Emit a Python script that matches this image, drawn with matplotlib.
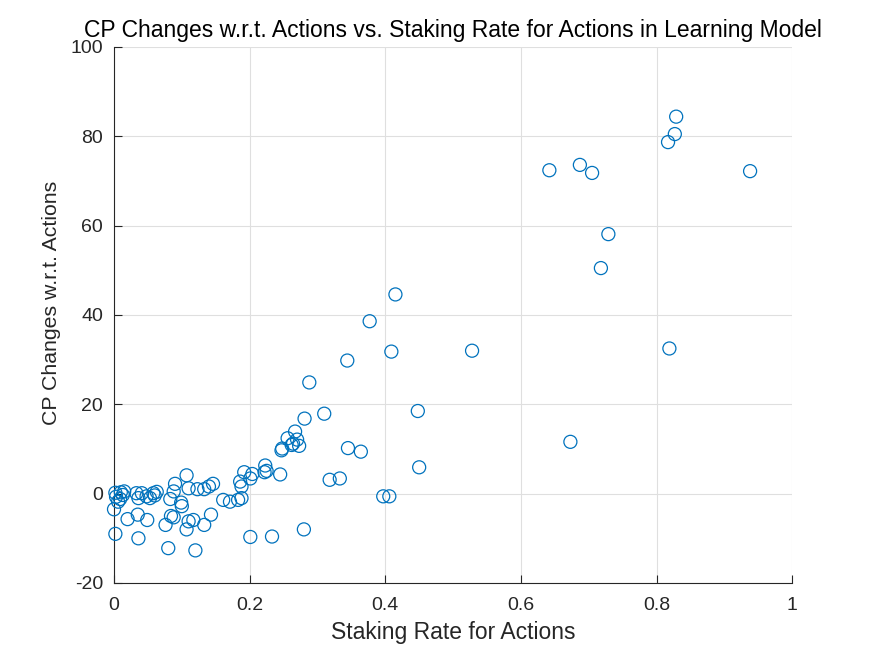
import numpy as np
import matplotlib
matplotlib.use('Agg')
import matplotlib.pyplot as plt

# staking rate (x) and CP change (y)
staking_rate = [
    0.829, 0.827, 0.817, 0.642, 0.687, 0.705, 0.938, 0.729, 0.718, 0.819,
    0.673, 0.415, 0.377, 0.409, 0.528, 0.344, 0.288, 0.310, 0.448, 0.281,
    0.267, 0.256, 0.270, 0.264, 0.273, 0.262, 0.248, 0.247, 0.345, 0.364,
    0.450, 0.223, 0.225, 0.222, 0.245, 0.204, 0.192, 0.201, 0.186, 0.188,
    0.318, 0.333, 0.397, 0.406, 0.188, 0.183, 0.171, 0.161, 0.201, 0.233,
    0.280, 0.140, 0.146, 0.133, 0.123, 0.110, 0.107, 0.090, 0.088, 0.083,
    0.099, 0.100, 0.084, 0.088, 0.076, 0.107, 0.110, 0.117, 0.133, 0.143,
    0.080, 0.120, 0.002, 0.036, 0.020, 0.035, 0.049, 0.000, 0.003, 0.006,
    0.009, 0.013, 0.010, 0.015, 0.002, 0.033, 0.036, 0.041, 0.048, 0.053,
    0.058, 0.063, 0.060,
]
cp_change = [
    84.4, 80.5, 78.7, 72.4, 73.6, 71.8, 72.2, 58.1, 50.5, 32.5,
    11.6, 44.6, 38.6, 31.8, 32.0, 29.8, 24.9, 17.9, 18.5, 16.8,
    13.9, 12.4, 12.1, 11.2, 10.7, 10.9, 10.1, 9.7, 10.2, 9.4,
    5.9, 6.3, 5.1, 4.8, 4.3, 4.4, 4.8, 3.4, 2.7, 1.6,
    3.1, 3.4, -0.6, -0.6, -1.0, -1.4, -1.8, -1.4, -9.7, -9.6,
    -8.0, 1.6, 2.2, 1.0, 1.0, 1.2, 4.1, 2.2, 0.5, -1.2,
    -2.0, -2.8, -5.0, -5.3, -7.0, -8.0, -6.2, -5.9, -7.0, -4.7,
    -12.2, -12.7, -9.0, -10.0, -5.7, -4.7, -5.9, -3.5, -0.7, -1.8,
    -1.2, -0.3, 0.3, 0.5, 0.2, 0.1, -1.0, 0.1, -0.6, -1.0,
    0.1, 0.4, -0.4,
]

xticks = [0, 0.2, 0.4, 0.6, 0.8, 1]
yticks = [-20, 0, 20, 40, 60, 80, 100]

plt.rcParams['font.family'] = ['Liberation Sans', 'DejaVu Sans']
plt.rcParams['axes.unicode_minus'] = False
axcolor = '#262626'

fig = plt.figure(figsize=(8.75, 6.56), dpi=100)
ax = fig.add_axes([0.1303, 0.1113, 0.775, 0.8171])

ax.scatter(staking_rate, cp_change, s=88, facecolors='none',
           edgecolors='#0072BD', linewidths=0.9, zorder=3, clip_on=False)

ax.set_xlim(0, 1)
ax.set_ylim(-20, 100)
ax.set_xticks(xticks)
ax.set_xticklabels([f'{t:g}' for t in xticks])
ax.set_yticks(yticks)
ax.grid(True, color='#dfdfdf', linewidth=0.8)
ax.set_axisbelow(True)

for side in ['top', 'right']:
    ax.spines[side].set_visible(False)
for side in ['left', 'bottom']:
    ax.spines[side].set_color(axcolor)
    ax.spines[side].set_linewidth(0.8)

ax.tick_params(direction='in', length=6, width=0.8, colors=axcolor, labelsize=14)
ax.tick_params(axis='x', pad=10)
ax.tick_params(axis='y', pad=8)

ax.set_xlabel('Staking Rate for Actions', fontsize=16.5, color=axcolor, labelpad=5)
ax.set_ylabel('CP Changes w.r.t. Actions', fontsize=15.3, color=axcolor)
ax.yaxis.set_label_coords(-0.078, 0.522)
ax.set_title('CP Changes w.r.t. Actions vs. Staking Rate for Actions in Learning Model',
             fontsize=16.5, color='black', pad=7.5)

plt.savefig('out.png', dpi=100)
